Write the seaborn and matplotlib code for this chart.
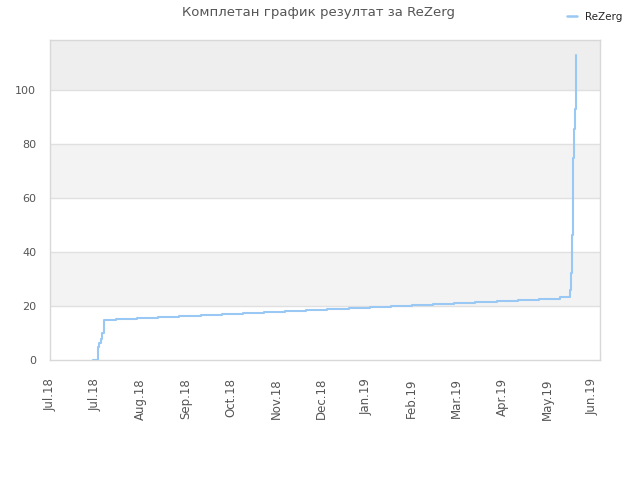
import matplotlib
matplotlib.use("Agg")
import matplotlib.pyplot as plt
import seaborn as sns
import pandas as pd

# Data: days since start of the x range (ticks every 30 days), cumulative score
days = [28.7, 31.7, 32.1, 32.7, 33.6, 34.7, 36.0, 43.8, 57.5, 71.5, 85.6, 100.2,
        114.1, 128.1, 142.0, 155.9, 169.9, 183.8, 198.4, 212.4, 226.3, 240.2,
        254.2, 268.1, 282.0, 296.6, 310.6, 324.5, 338.4, 345.1, 345.5, 346.2,
        346.9, 347.5, 348.2, 348.9]
score = [0.0, 0.6, 4.9, 6.4, 7.8, 9.9, 14.8, 15.3, 15.7, 16.0, 16.4, 16.8,
         17.1, 17.5, 17.9, 18.3, 18.6, 18.9, 19.3, 19.8, 20.1, 20.5,
         20.9, 21.2, 21.6, 22.0, 22.3, 22.7, 23.2, 25.9, 32.1, 46.3,
         74.7, 85.4, 92.8, 113.0]
tick_days = [0, 30, 60, 90, 120, 150, 180, 210, 240, 270, 300, 330, 360]
tick_labels = ["Jul.18", "Jul.18", "Aug.18", "Sep.18", "Oct.18", "Nov.18", "Dec.18",
               "Jan.19", "Feb.19", "Mar.19", "Apr.19", "May.19", "Jun.19"]
series_name = "ReZerg"
title = "Комплетан график резултат за ReZerg"

df = pd.DataFrame({"day": days, "score": score, "player": series_name})

sns.set_theme(style="white")
plt.rcParams['font.family'] = ['DejaVu Sans']

fig = plt.figure(figsize=(6.4, 4.8), dpi=100)
ax = fig.add_axes([50/640, 120/480, 550/640, 320/480])

ymax = 118.5
ax.set_xlim(0, 365)
ax.set_ylim(0, ymax)

# alternating bands
ax.axhspan(20, 40, color="#f3f3f3", zorder=0, lw=0)
ax.axhspan(60, 80, color="#f3f3f3", zorder=0, lw=0)
ax.axhspan(100, ymax, color="#eeeeee", zorder=0, lw=0)
for yv in [20, 40, 60, 80, 100]:
    ax.axhline(yv, color="#e0e0e0", lw=1, zorder=1)

sns.lineplot(data=df, x="day", y="score", hue="player", palette=["#99c8f5"],
             drawstyle="steps-post", linewidth=1.5, ax=ax, legend=False,
             estimator=None, sort=False, zorder=3)

ax.set_xticks(tick_days)
ax.set_xticklabels(tick_labels, rotation=90, fontsize=8.5, color="#555555")
ax.set_yticks([0, 20, 40, 60, 80, 100])
ax.set_yticklabels(["0", "20", "40", "60", "80", "100"], fontsize=8, color="#555555")
ax.tick_params(axis="both", length=0)
ax.tick_params(axis="y", pad=10)
ax.tick_params(axis="x", pad=13)
ax.set_xlabel("")
ax.set_ylabel("")
for s in ax.spines.values():
    s.set_color("#d8d8d8")
    s.set_linewidth(1)

fig.suptitle(title, x=0.497, y=0.987, fontsize=9.5, color="#555555", va="top")

from matplotlib.lines import Line2D
h = [Line2D([0], [0], color="#99c8f5", lw=1.8)]
fig.legend(h, [series_name], loc="upper right", bbox_to_anchor=(0.987, 0.995),
           frameon=False, fontsize=7.5, handlelength=0.9, handletextpad=0.8)

fig.savefig("out.png", dpi=100)
